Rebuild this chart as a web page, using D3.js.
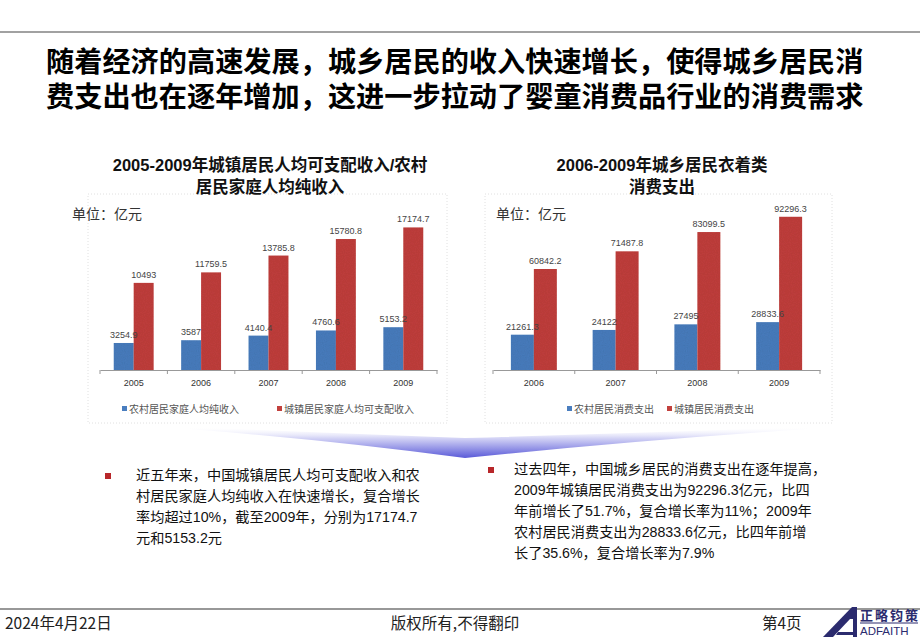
<!DOCTYPE html>
<html><head><meta charset="utf-8">
<script src="https://cdn.jsdelivr.net/npm/d3@7"></script>
<style>body{margin:0;background:#fff}svg{display:block}</style>
</head><body><svg id="c" width="920" height="637"></svg>
<script>
// ---------- data ----------
const titleLines = ["随着经济的高速发展，城乡居民的收入快速增长，使得城乡居民消",
                    "费支出也在逐年增加，这进一步拉动了婴童消费品行业的消费需求"];
const chart1Title = ["2005-2009年城镇居民人均可支配收入/农村", "居民家庭人均纯收入"];
const chart2Title = ["2006-2009年城乡居民衣着类", "消费支出"];
const unitLabel = "单位：亿元";

const years1 = ["2005", "2006", "2007", "2008", "2009"];
const rural1 = [3254.9, 3587, 4140.4, 4760.6, 5153.2];
const urban1 = [10493, 11759.5, 13785.8, 15780.8, 17174.7];
const legend1 = ["农村居民家庭人均纯收入", "城镇居民家庭人均可支配收入"];

const years2 = ["2006", "2007", "2008", "2009"];
const rural2 = [21261.3, 24122, 27495, 28833.6];
const urban2 = [60842.2, 71487.8, 83099.5, 92296.3];
const legend2 = ["农村居民消费支出", "城镇居民消费支出"];

const bullet1 = ["近五年来，中国城镇居民人均可支配收入和农",
                 "村居民家庭人均纯收入在快速增长，复合增长",
                 "率均超过10%，截至2009年，分别为17174.7",
                 "元和5153.2元"];
const bullet2 = ["过去四年，中国城乡居民的消费支出在逐年提高，",
                 "2009年城镇居民消费支出为92296.3亿元，比四",
                 "年前增长了51.7%，复合增长率为11%；2009年",
                 "农村居民消费支出为28833.6亿元，比四年前增",
                 "长了35.6%，复合增长率为7.9%"];
const footerTexts = ["2024年4月22日", "版权所有,不得翻印", "第4页"];
const logoTexts = ["正略钧策", "ADFAITH"];

// ---------- drawing ----------
const svg = d3.select("#c");
const CJK = "'Liberation Sans', 'Noto Sans CJK SC', sans-serif";
const BLUE = "#4a7ebf", RED = "#c2403d";

const defs = svg.append("defs");
const g1 = defs.append("linearGradient").attr("id", "arrowGrad")
  .attr("x1", 0).attr("y1", 0).attr("x2", 0).attr("y2", 1);
g1.append("stop").attr("offset", "0").attr("stop-color", "#ffffff").attr("stop-opacity", 0);
g1.append("stop").attr("offset", "0.35").attr("stop-color", "#d6d6f6");
g1.append("stop").attr("offset", "1").attr("stop-color", "#5a5ad8");

// texture filter for bars
const f = defs.append("filter").attr("id", "noise").attr("x", 0).attr("y", 0).attr("width", 1).attr("height", 1);
f.append("feTurbulence").attr("type", "fractalNoise").attr("baseFrequency", 0.9).attr("numOctaves", 1).attr("result", "n");
f.append("feColorMatrix").attr("in", "n").attr("type", "matrix")
  .attr("values", "0 0 0 0 0  0 0 0 0 0  0 0 0 0 0  0 0 0 0.18 0").attr("result", "na");
f.append("feComposite").attr("in", "na").attr("in2", "SourceGraphic").attr("operator", "in").attr("result", "nm");
const fm = f.append("feMerge");
fm.append("feMergeNode").attr("in", "SourceGraphic");
fm.append("feMergeNode").attr("in", "nm");

// top rule
svg.append("line").attr("x1", 0).attr("x2", 920).attr("y1", 32).attr("y2", 32)
  .attr("stroke", "#444").attr("stroke-width", 1.2);

// main title
svg.append("g").selectAll("text").data(titleLines).join("text")
  .attr("x", 46).attr("y", (d, i) => 72 + i * 35)
  .attr("font-family", "'Noto Sans CJK SC', sans-serif").attr("font-weight", 700)
  .attr("font-size", 28.2).attr("fill", "#000").text(d => d);

function drawChart(cfg) {
  const g = svg.append("g");
  // dotted box
  g.append("rect").attr("x", cfg.box[0]).attr("y", cfg.box[1])
    .attr("width", cfg.box[2] - cfg.box[0]).attr("height", cfg.box[3] - cfg.box[1])
    .attr("fill", "none").attr("stroke", "#d8d8d8").attr("stroke-width", 0.8)
    .attr("stroke-dasharray", "1,2");
  // title
  g.selectAll("text.t").data(cfg.title).join("text").attr("class", "t")
    .attr("x", cfg.titleX).attr("y", (d, i) => 171 + i * 22).attr("text-anchor", "middle")
    .attr("font-family", CJK).attr("font-weight", 700).attr("font-size", 16.5)
    .attr("fill", "#111").text(d => d);
  // unit
  g.append("text").attr("x", cfg.unitX).attr("y", 219).attr("font-family", "'Noto Sans CJK SC', sans-serif")
    .attr("font-size", 14).attr("fill", "#333").text(unitLabel);

  const x0 = d3.scaleBand().domain(cfg.cats).range(cfg.xr).paddingInner(0).paddingOuter(0);
  const x1 = d3.scaleBand().domain(["r", "u"]).range([0, x0.bandwidth()]).paddingInner(0).paddingOuter(cfg.pad);
  const y = d3.scaleLinear().domain([0, cfg.ymax]).range([370, 204]);

  const rows = cfg.cats.map((c, i) => ({ c, r: cfg.rural[i], u: cfg.urban[i] }));
  const grp = g.selectAll("g.cat").data(rows).join("g").attr("class", "cat")
    .attr("transform", d => `translate(${x0(d.c)},0)`);
  grp.append("rect").attr("x", x1("r")).attr("width", x1.bandwidth())
    .attr("y", d => y(d.r)).attr("height", d => y(0) - y(d.r)).attr("fill", BLUE).attr("filter", "url(#noise)");
  grp.append("rect").attr("x", x1("u")).attr("width", x1.bandwidth())
    .attr("y", d => y(d.u)).attr("height", d => y(0) - y(d.u)).attr("fill", RED).attr("filter", "url(#noise)");
  grp.append("text").attr("x", x1("r") + x1.bandwidth() / 2).attr("y", d => y(d.r) - 5)
    .attr("text-anchor", "middle").attr("font-family", "'Liberation Sans', sans-serif").attr("font-size", 9)
    .attr("fill", "#444").text(d => d.r);
  grp.append("text").attr("x", x1("u") + x1.bandwidth() / 2).attr("y", d => y(d.u) - 5)
    .attr("text-anchor", "middle").attr("font-family", "'Liberation Sans', sans-serif").attr("font-size", 9)
    .attr("fill", "#444").text(d => d.u);

  // axis
  const ax = g.append("g").attr("transform", "translate(0,370)")
    .call(d3.axisBottom(x0).tickSize(0).tickPadding(10));
  ax.select(".domain").attr("stroke", "#999");
  ax.selectAll("text").attr("font-family", "'Liberation Sans', sans-serif").attr("font-size", 9).attr("fill", "#333");
  const bounds = cfg.cats.map(c => x0(c)).concat([x0.range()[1]]);
  g.selectAll("line.tk").data(bounds).join("line").attr("class", "tk")
    .attr("x1", d => d).attr("x2", d => d).attr("y1", 370).attr("y2", 374).attr("stroke", "#999");

  // legend
  const lg = g.selectAll("g.lg").data(cfg.legend).join("g").attr("class", "lg")
    .attr("transform", (d, i) => `translate(${cfg.legX[i]},409)`);
  lg.append("rect").attr("x", 0).attr("y", -3).attr("width", 5).attr("height", 5)
    .attr("fill", (d, i) => i === 0 ? BLUE : RED);
  lg.append("text").attr("x", 7).attr("y", 3.5).attr("font-family", "'Noto Sans CJK SC', sans-serif")
    .attr("font-size", 10).attr("fill", "#555").text(d => d);
}

drawChart({ box: [88, 194, 447, 423], title: chart1Title, titleX: 270, unitX: 72,
  cats: years1, rural: rural1, urban: urban1, ymax: 20000, xr: [100, 437], pad: 0.69,
  legend: legend1, legX: [122, 277] });
drawChart({ box: [485, 194, 832, 423], title: chart2Title, titleX: 662, unitX: 496,
  cats: years2, rural: rural2, urban: urban2, ymax: 100000, xr: [493, 820], pad: 0.78,
  legend: legend2, legX: [567, 667] });

// chevron arrow
svg.append("path")
  .attr("d", "M189,427 Q330,433 465,438 Q640,433 808,427 L808,429 Q640,440 465,458 Q330,440 189,429 Z")
  .attr("fill", "url(#arrowGrad)");

// bullets
function bullets(lines, bx, tx, y0) {
  svg.append("rect").attr("x", bx).attr("y", y0 - 7).attr("width", 6).attr("height", 6).attr("fill", "#b8272a");
  svg.append("g").selectAll("text").data(lines).join("text")
    .attr("x", tx).attr("y", (d, i) => y0 + i * 21)
    .attr("font-family", CJK).attr("font-size", 14.2).attr("fill", "#111").text(d => d);
}
bullets(bullet1, 105, 136, 480);
bullets(bullet2, 488, 514, 474);

// footer
svg.append("line").attr("x1", 0).attr("x2", 920).attr("y1", 609).attr("y2", 609)
  .attr("stroke", "#333").attr("stroke-width", 1.2);
const ft = svg.append("g").attr("font-family", "'Noto Sans CJK SC', sans-serif").attr("font-size", 15.5).attr("fill", "#222");
ft.append("text").attr("x", 5).attr("y", 629).text(footerTexts[0]);
ft.append("text").attr("x", 455).attr("y", 629).attr("text-anchor", "middle").text(footerTexts[1]);
ft.append("text").attr("x", 762).attr("y", 629).text(footerTexts[2]);

// logo
const lgG = svg.append("g");
lgG.append("path").attr("d", "M823,637 L852,607 L857,607 L857,637 Z").attr("fill", "#2b2b6e");
lgG.append("path").attr("d", "M833,637 L850,619 L853,619 L853,637 Z").attr("fill", "#fff");
lgG.append("path").attr("d", "M838,632 L857,632 L857,635 L836,635 Z").attr("fill", "#2b2b6e");
lgG.append("text").attr("x", 860).attr("y", 620).attr("font-family", "'Noto Sans CJK SC', sans-serif")
  .attr("font-weight", 700).attr("font-size", 13).attr("fill", "#2b2b6e").attr("letter-spacing", 2).text(logoTexts[0]);
lgG.append("line").attr("x1", 860).attr("x2", 918).attr("y1", 623).attr("y2", 623).attr("stroke", "#2b2b6e");
lgG.append("text").attr("x", 860).attr("y", 635).attr("font-family", "'Liberation Sans', sans-serif")
  .attr("font-size", 11.5).attr("fill", "#2b2b6e").text(logoTexts[1]);
</script></body></html>
